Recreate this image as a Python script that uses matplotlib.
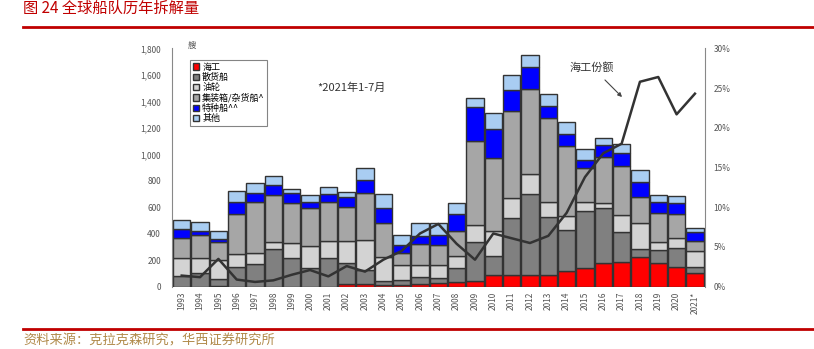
import matplotlib.pyplot as plt
import numpy as np

plt.rcParams['font.family'] = ['Noto Sans CJK SC', 'DejaVu Sans']

years = ['1993', '1994', '1995', '1996', '1997', '1998', '1999', '2000', '2001', '2002',
         '2003', '2004', '2005', '2006', '2007', '2008', '2009', '2010', '2011', '2012',
         '2013', '2014', '2015', '2016', '2017', '2018', '2019', '2020', '2021*']

# 艘, stacked from bottom
offshore  = [0, 0, 5, 0, 0, 0, 0, 0, 0, 18, 18, 15, 10, 20, 30, 38, 45, 85, 90, 88,
             90, 120, 144, 181, 189, 222, 176, 151, 106]
bulk      = [80, 100, 55, 150, 170, 282, 214, 144, 214, 159, 108, 30, 40, 55, 33, 106, 295, 145, 427, 612,
             440, 305, 430, 411, 226, 63, 101, 139, 45]
tanker    = [135, 120, 140, 100, 83, 55, 114, 163, 133, 170, 227, 180, 114, 89, 101, 88, 126, 190, 150, 150,
             113, 110, 68, 38, 126, 194, 63, 75, 119]
container = [150, 168, 135, 302, 390, 352, 302, 285, 290, 253, 352, 255, 93, 161, 151, 189, 637, 555, 660, 640,
             630, 530, 257, 352, 371, 196, 214, 184, 77]
special   = [70, 33, 25, 88, 68, 76, 75, 50, 61, 80, 101, 113, 58, 60, 75, 128, 252, 220, 160, 166,
             93, 88, 58, 88, 96, 113, 83, 81, 68]
other     = [70, 68, 60, 83, 71, 70, 33, 51, 53, 37, 88, 110, 75, 94, 89, 81, 68, 115, 112, 93,
             90, 90, 81, 55, 67, 93, 56, 55, 31]

# 海工份额 %
share = [1.4, 1.2, 3.5, 0.9, 0.6, 0.8, 1.5, 2.1, 1.3, 2.6, 1.9, 3.4, 4.5, 6.7, 7.9, 5.4, 3.4, 6.7, 6.1, 5.5,
         6.4, 9.3, 13.8, 16.8, 18.0, 25.8, 26.4, 21.7, 24.3]

series = [('海工', offshore, '#ff0000'),
          ('散货船', bulk, '#808080'),
          ('油轮', tanker, '#d3d3d3'),
          ('集装箱/杂货船^', container, '#a6a6a6'),
          ('特种船^^', special, '#0000ff'),
          ('其他', other, '#a9cdf2')]

W, H = 814, 349
fig = plt.figure(figsize=(W / 100, H / 100), dpi=100)
ax = fig.add_axes([0.2113, 0.1785, 0.6548, 0.6828])

x = np.arange(len(years))
bottom = np.zeros(len(years))
for name, vals, col in series:
    ax.bar(x, vals, 0.95, bottom=bottom, color=col, edgecolor='#333333', linewidth=1.0, label=name)
    bottom += np.array(vals)

ax.set_xlim(-0.53, 28.55)
ax.set_ylim(0, 1800)
ax.set_yticks(range(0, 1801, 200))
ax.set_yticklabels([f'{v:,}' for v in range(0, 1801, 200)])
ax.set_xticks(x)
ax.set_xticklabels(years, rotation=90)
ax.tick_params(axis='both', length=0, labelsize=6, colors='#555555')
ax.tick_params(axis='y', pad=8)
for s in ['top', 'right', 'bottom']:
    ax.spines[s].set_visible(False)
ax.spines['left'].set_color('#888888')
ax.text(0.3, 1790, '艘', fontsize=6, color='#555555', va='bottom')

ax2 = ax.twinx()
ax2.plot(x, share, color='#333333', linewidth=1.8)
ax2.set_ylim(0, 30)
ax2.set_yticks(range(0, 31, 5))
ax2.set_yticklabels([f'{v}%' for v in range(0, 31, 5)])
ax2.tick_params(axis='y', length=0, labelsize=6, colors='#555555', pad=6)
for s in ['top', 'left', 'bottom']:
    ax2.spines[s].set_visible(False)
ax2.spines['right'].set_color('#888888')

leg = ax.legend(loc='upper left', bbox_to_anchor=(0.026, 0.97), fontsize=6.5, frameon=True,
                fancybox=False, edgecolor='#666666', handlelength=0.7, handleheight=0.7,
                handletextpad=0.3, labelspacing=0.12, borderpad=0.3)
leg.get_frame().set_linewidth(0.8)

fig.text(351 / W, 1 - 88 / H, '*2021年1-7月', fontsize=8, color='#333333', ha='center', va='center')
fig.text(592 / W, 1 - 67 / H, '海工份额', fontsize=8, color='#333333', ha='center', va='center')
ax2.annotate('', xy=(624 / W, 1 - 99 / H), xytext=(603 / W, 1 - 78 / H),
             xycoords='figure fraction', textcoords='figure fraction',
             arrowprops=dict(arrowstyle='-|>', color='#444444', lw=0.8, mutation_scale=6))

# title and source
fig.text(23 / W, 1 - 8 / H, '图 24 全球船队历年拆解量', fontsize=11, color='#c00000', va='center')
fig.add_artist(plt.Line2D([23 / W, 1], [1 - 27 / H] * 2, color='#c00000', lw=2))
fig.add_artist(plt.Line2D([23 / W, 1], [1 - 329 / H] * 2, color='#c00000', lw=2))
fig.text(23 / W, 1 - 341 / H, '资料来源：克拉克森研究，华西证券研究所', fontsize=9.5, color='#b08a4a', va='center')

fig.savefig('out.png', dpi=100)
